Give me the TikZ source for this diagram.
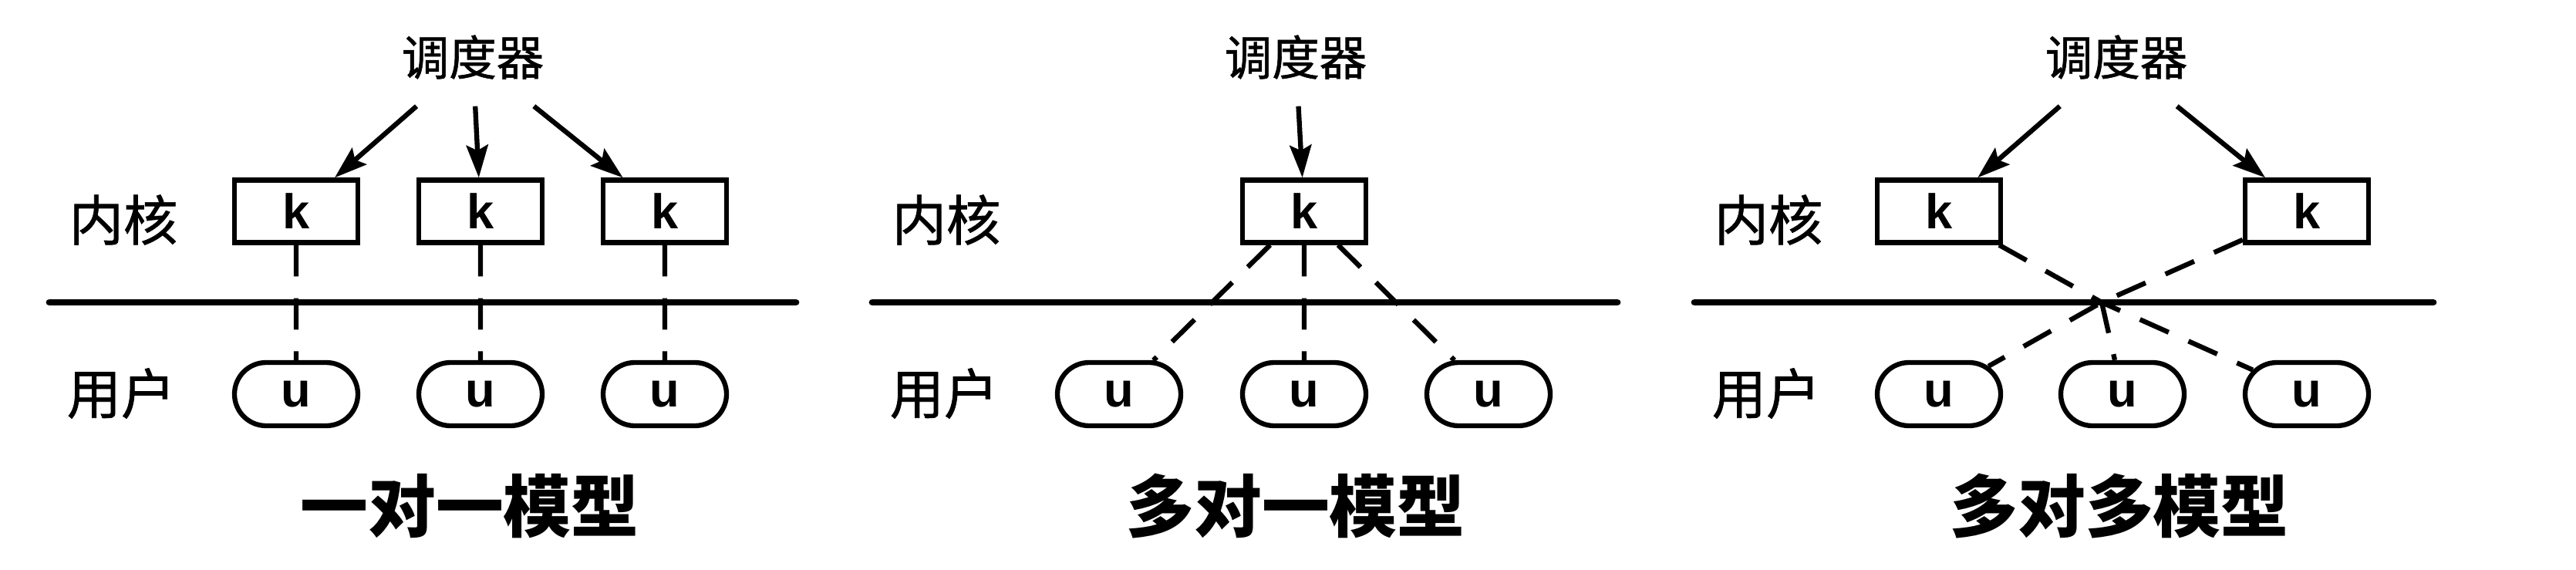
\documentclass[tikz,border=0pt]{standalone}
\usepackage{fontspec}
\setmainfont{Noto Sans CJK SC}
\newfontfamily\labelfont[FakeBold=1]{Noto Sans CJK SC}
\newfontfamily\latinfont{Liberation Sans}
\usetikzlibrary{arrows.meta,positioning,shapes.misc}

\begin{document}
\begin{tikzpicture}[
  kbox/.style={rectangle, draw, line width=1.8pt, minimum width=1.6cm,
               minimum height=0.81cm, inner sep=0pt, font=\latinfont\bfseries\fontsize{18}{20}\selectfont},
  ubox/.style={rounded rectangle, draw, line width=1.8pt, minimum width=1.6cm,
               minimum height=0.82cm, inner sep=0pt, font=\latinfont\bfseries\fontsize{18}{20}\selectfont},
  sched/.style={minimum height=1.26cm, inner sep=2pt, font=\labelfont\fontsize{17.5}{20}\selectfont},
  layer/.style={inner sep=0pt, font=\labelfont\fontsize{20}{22}\selectfont},
  title/.style={inner sep=0pt, font=\bfseries\fontsize{25}{28}\selectfont},
  arr/.style={-{Stealth[length=12pt,width=8pt,inset=2pt]}, line width=1.8pt},
  thread/.style={line width=1.8pt, dash pattern=on 11.6pt off 8pt},
  border/.style={line width=2.5pt, line cap=round}
]
  \useasboundingbox (0,0) rectangle (33.4,7.38);

  % one-to-one
  \node[sched] (sa) at (6.13,6.64) {调度器};
  \node[kbox] (ka1) at (3.84,4.64) {k};
  \node[kbox] (ka2) at (6.23,4.64) {k};
  \node[kbox] (ka3) at (8.62,4.64) {k};
  \node[ubox] (ua1) at (3.84,2.27) {u};
  \node[ubox] (ua2) at (6.23,2.27) {u};
  \node[ubox] (ua3) at (8.62,2.27) {u};
  \node[layer] (kla) at (1.60,4.53) {内核};
  \node[layer] (ula) at (1.57,2.28) {用户};
  \coordinate (la) at (0.64,3.46);
  \coordinate (ra) at (10.32,3.46);
  \draw[border] (la) -- (ra);
  \draw[arr] (sa) -- (ka1);
  \draw[arr] (sa) -- (ka2);
  \draw[arr] (sa) -- (ka3);
  \draw[thread] (ka1) -- (ua1);
  \draw[thread] (ka2) -- (ua2);
  \draw[thread] (ka3) -- (ua3);
  \node[title] (ta) at (6.09,0.82) {一对一模型};

  % many-to-one
  \node[sched] (sb) at (16.80,6.64) {调度器};
  \node[kbox] (kb) at (16.91,4.64) {k};
  \node[ubox] (ub1) at (14.51,2.27) {u};
  \node[ubox] (ub2) at (16.91,2.27) {u};
  \node[ubox] (ub3) at (19.30,2.27) {u};
  \node[layer] (klb) at (12.27,4.53) {内核};
  \node[layer] (ulb) at (12.24,2.28) {用户};
  \coordinate (lb) at (11.31,3.46);
  \coordinate (rb) at (20.97,3.46);
  \draw[border] (lb) -- (rb);
  \draw[arr] (sb) -- (kb);
  \draw[thread] (kb) -- (ub1);
  \draw[thread] (kb) -- (ub2);
  \draw[thread] (kb) -- (ub3);
  \node[title] (tb) at (16.80,0.82) {多对一模型};

  % many-to-many
  \node[sched] (sc) at (27.44,6.64) {调度器};
  \node[kbox] (kc1) at (25.14,4.64) {k};
  \node[kbox] (kc2) at (29.91,4.64) {k};
  \node[ubox] (uc1) at (25.14,2.27) {u};
  \node[ubox] (uc2) at (27.52,2.27) {u};
  \node[ubox] (uc3) at (29.91,2.27) {u};
  \node[layer] (klc) at (22.93,4.53) {内核};
  \node[layer] (ulc) at (22.90,2.28) {用户};
  \coordinate (lc) at (21.97,3.46);
  \coordinate (rc) at (31.55,3.46);
  \coordinate (mix) at (27.25,3.46);
  \draw[border] (lc) -- (rc);
  \draw[arr] (sc) -- (kc1);
  \draw[arr] (sc) -- (kc2);
  \draw[thread] (kc1) -- (mix) -- (uc3);
  \draw[thread] (kc2) -- (mix) -- (uc1);
  \draw[thread] (mix) -- (uc2);
  \node[title] (tc) at (27.48,0.82) {多对多模型};
\end{tikzpicture}
\end{document}
